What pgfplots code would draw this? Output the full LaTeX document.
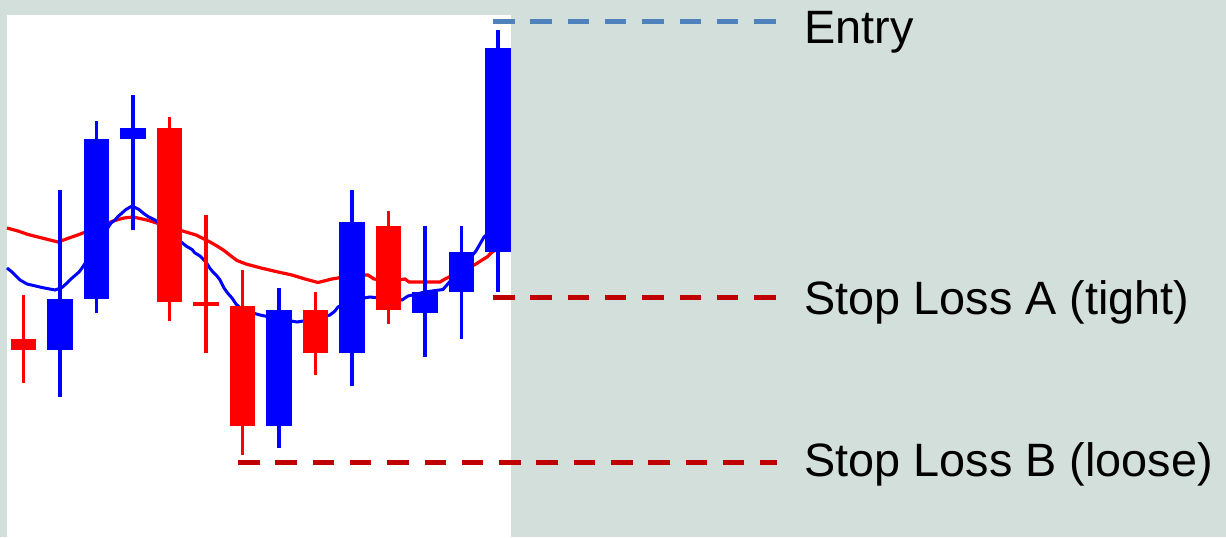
\documentclass[border=0pt]{standalone}
\usepackage{pgfplots}
\pgfplotsset{compat=1.18}
\usepackage{pgfplotstable}
\usepackage{fontspec}
\setmainfont{Liberation Sans}
\definecolor{bg}{RGB}{211,223,219}
\definecolor{entryblue}{RGB}{79,129,189}
\definecolor{slred}{RGB}{192,0,0}
\definecolor{cblue}{RGB}{0,0,255}
\definecolor{cred}{RGB}{255,0,0}

% up (blue) candles
\pgfplotstableread{
x open close high low
2 187 238 347 140
3 238 398 416 224
4 398 409 442 307
8 111 227 249 89
10 184 315 347 151
12 224 245 311 180
13 245 285 311 198
14 285 489 507 245
}\upcandles
% down (red) candles
\pgfplotstableread{
x open close high low
1 198 187 242 154
5 409 235 420 216
6 235 231 322 184
7 231 111 267 82
9 227 184 245 162
11 311 227 326 213
}\downcandles
% red moving average
\pgfplotstableread{
x y
0.548 309
0.849 306
1.123 302.5
1.507 299
1.945 295
2.247 299
2.521 302.5
2.986 309
3.452 316
3.753 319
4.000 320
4.384 317
5.000 310
5.452 305
5.726 302
6.000 297
6.110 295
6.301 291
6.493 286.5
6.685 281
6.849 276.5
7.096 273
7.507 269
7.973 265
8.356 262
8.712 258
9.068 254.5
9.452 258
10.000 261.5
10.438 262
10.603 258
11.041 256
11.452 258
11.562 255
12.411 255
12.548 258
13.397 273
13.562 277
13.699 280
13.808 284
14.000 289
}\redma
% blue moving average
\pgfplotstableread{
x y
0.548 269
0.685 265
0.795 261
0.904 257
1.096 253
1.507 249.5
1.863 247
2.055 249.5
2.192 254
2.301 258
2.411 261.5
2.521 265
2.603 269
3.000 291
3.397 314
3.507 317
3.589 320.5
3.699 324
3.808 327.5
3.973 331
4.164 327.5
4.274 324
4.411 320.5
4.603 317
5.000 305
5.452 291
5.616 287.5
5.699 284
5.836 281
6.000 275
6.110 268.5
6.192 265
6.301 261
6.384 257
6.493 249
6.603 243.5
6.712 239
6.822 233
7.000 227
7.479 222
8.000 218
8.493 215
9.000 218
9.397 222
9.534 226
9.616 230
10.000 237
10.493 240
11.000 238
11.370 237
11.534 241
12.000 245
12.493 247.5
13.000 269
13.397 286
13.507 293
13.616 300
14.000 312
}\bluema

\pgfplotsset{
  candle/.style 2 args={draw=none, mark=none, no markers,
    error bars/.cd, y dir=plus, y explicit, error mark=none,
    error bar style={draw=#1, solid, line width=#2}},
}

\begin{document}
\begin{tikzpicture}
\begin{axis}[
  width=613pt, height=268.5pt, scale only axis,
  xmin=0.35616, xmax=33.9452, ymin=0, ymax=537,
  hide axis, clip=false,
]
\fill[bg] (rel axis cs:0,0) rectangle (rel axis cs:1,1);
\fill[white] (axis cs:0.548,0) rectangle (axis cs:14.356,522);
% moving averages
\addplot[cred, line width=1.6pt, mark=none] table[x=x,y=y] {\redma};
\addplot[cblue, line width=1.5pt, mark=none] table[x=x,y=y] {\bluema};
% wicks
\addplot[candle={cblue}{1.8pt}]
  table[x=x, y=low, y error expr=\thisrow{high}-\thisrow{low}] {\upcandles};
\addplot[candle={cred}{1.8pt}]
  table[x=x, y=low, y error expr=\thisrow{high}-\thisrow{low}] {\downcandles};
% bodies
\addplot[candle={cblue}{12.75pt}]
  table[x=x, y expr={min(\thisrow{open},\thisrow{close})}, y error expr={abs(\thisrow{close}-\thisrow{open})}] {\upcandles};
\addplot[candle={cred}{12.75pt}]
  table[x=x, y expr={min(\thisrow{open},\thisrow{close})}, y error expr={abs(\thisrow{close}-\thisrow{open})}] {\downcandles};
% levels
\addplot[entryblue, line width=2.5pt, dash pattern=on 10.75pt off 7.9pt, mark=none]
  coordinates {(13.863,515) (21.644,515)};
\addplot[slred, line width=2.5pt, dash pattern=on 10.75pt off 7.9pt, mark=none]
  coordinates {(13.863,239.5) (21.644,239.5)};
\addplot[slred, line width=2.5pt, dash pattern=on 10.75pt off 7.9pt, mark=none]
  coordinates {(6.877,75) (21.644,75)};
\node[anchor=base west, inner sep=0pt, font=\fontsize{23.4pt}{28pt}\selectfont] at (axis cs:22.384,494) {Entry};
\node[anchor=base west, inner sep=0pt, font=\fontsize{23.4pt}{28pt}\selectfont] at (axis cs:22.384,222.5) {Stop Loss A (tight)};
\node[anchor=base west, inner sep=0pt, font=\fontsize{23.4pt}{28pt}\selectfont] at (axis cs:22.384,60.5) {Stop Loss B (loose)};
\end{axis}
\pgfresetboundingbox
\path[use as bounding box] (current axis.south west) rectangle (current axis.north east);
\end{tikzpicture}
\end{document}
